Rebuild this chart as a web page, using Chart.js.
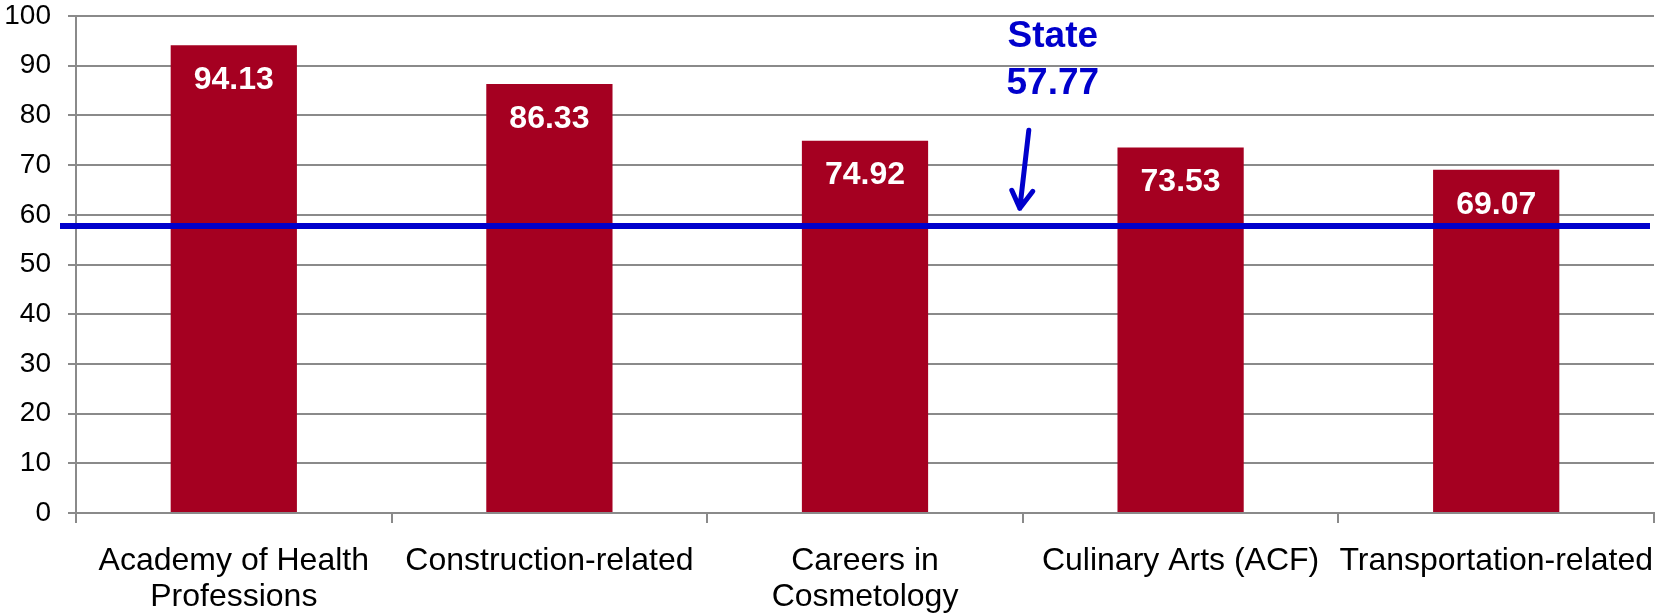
<!DOCTYPE html>
<html>
<head>
<meta charset="utf-8">
<script src="https://cdn.jsdelivr.net/npm/chart.js@4.4.1/dist/chart.umd.min.js"></script>
<style>
  html, body { margin: 0; padding: 0; background: #fff; }
  #wrap { width: 1669px; height: 615px; }
</style>
</head>
<body>
<div id="wrap"><canvas id="programChart" width="1669" height="615"></canvas></div>
<script>
// Data
const programs = [
  ["Academy of Health", "Professions"],
  "Construction-related",
  ["Careers in", "Cosmetology"],
  "Culinary Arts (ACF)",
  "Transportation-related",
];
const scores = [94.13, 86.33, 74.92, 73.53, 69.07];
const stateLabel = "State";
const stateValue = 57.77;
const yTicks = [0, 10, 20, 30, 40, 50, 60, 70, 80, 90, 100];

const FONT = "'Liberation Sans', Arial, sans-serif";
const GRID = "#8a8a8a";
const BAR = "#a50021";
const BLUE = "#0000cc";

// white value labels inside the top of each bar
const valueLabels = {
  id: "valueLabels",
  afterDatasetsDraw(chart) {
    const ctx = chart.ctx;
    const meta = chart.getDatasetMeta(0);
    ctx.save();
    ctx.fillStyle = "#fff";
    ctx.font = "bold 32px " + FONT;
    ctx.textAlign = "center";
    ctx.textBaseline = "middle";
    meta.data.forEach((bar, i) => {
      ctx.fillText(scores[i].toFixed(2), bar.x, bar.y + 35);
    });
    ctx.restore();
  },
};

// state average line, label and arrow
const stateLine = {
  id: "stateLine",
  afterDatasetsDraw(chart) {
    const ctx = chart.ctx;
    const area = chart.chartArea;
    const x = chart.scales.x;
    const y = chart.scales.y;
    const yLine = y.getPixelForValue(stateValue);

    ctx.save();
    ctx.strokeStyle = BLUE;
    ctx.lineWidth = 6;
    ctx.beginPath();
    ctx.moveTo(area.left - 16, yLine);
    ctx.lineTo(area.right - 4, yLine);
    ctx.stroke();

    // between 3rd and 4th category
    const xMid = (x.getPixelForValue(2) + x.getPixelForValue(3)) / 2;
    ctx.fillStyle = BLUE;
    ctx.font = "bold 37px " + FONT;
    ctx.textAlign = "center";
    ctx.textBaseline = "alphabetic";
    ctx.fillText(stateLabel, xMid + 30, y.getPixelForValue(93.7));
    ctx.fillText(stateValue.toFixed(2), xMid + 30, y.getPixelForValue(84.4));

    // arrow
    const x0 = xMid + 6, y0 = y.getPixelForValue(77);
    const x1 = xMid - 3, y1 = y.getPixelForValue(61.3);
    ctx.lineWidth = 5;
    ctx.lineCap = "round";
    ctx.lineJoin = "round";
    ctx.beginPath();
    ctx.moveTo(x0, y0);
    ctx.lineTo(x1, y1);
    ctx.moveTo(x1 - 8, y1 - 18);
    ctx.lineTo(x1, y1);
    ctx.lineTo(x1 + 13, y1 - 17);
    ctx.stroke();
    ctx.restore();
  },
};

new Chart(document.getElementById("programChart"), {
  type: "bar",
  data: {
    labels: programs,
    datasets: [
      {
        data: scores,
        backgroundColor: BAR,
        borderWidth: 0,
        categoryPercentage: 0.4,
        barPercentage: 1,
      },
    ],
  },
  options: {
    responsive: false,
    animation: false,
    events: [],
    layout: { padding: { top: 16, right: 15, left: 0, bottom: 0 } },
    plugins: {
      legend: { display: false },
      tooltip: { enabled: false },
    },
    scales: {
      x: {
        afterFit: (s) => { s.height = 102; s.paddingLeft = 0; s.paddingRight = 0; },
        grid: {
          display: true,
          drawOnChartArea: false,
          drawTicks: true,
          tickLength: 10,
          color: GRID,
          lineWidth: 2,
          offset: true,
        },
        border: { color: GRID, width: 2 },
        ticks: {
          color: "#000",
          font: { family: FONT, size: 32, lineHeight: 1.13 },
          padding: 20,
          maxRotation: 0,
          autoSkip: false,
        },
      },
      y: {
        min: 0,
        max: 100,
        afterFit: (s) => { s.width = 76; s.paddingTop = 0; s.paddingBottom = 0; },
        afterBuildTicks: (s) => { s.ticks = yTicks.map((v) => ({ value: v })); },
        grid: {
          color: GRID,
          lineWidth: 2,
          drawTicks: true,
          tickLength: 8,
        },
        border: { color: GRID, width: 2 },
        ticks: {
          color: "#000",
          font: { family: FONT, size: 28 },
          padding: 17,
        },
      },
    },
  },
  plugins: [valueLabels, stateLine],
});
</script>
</body>
</html>
